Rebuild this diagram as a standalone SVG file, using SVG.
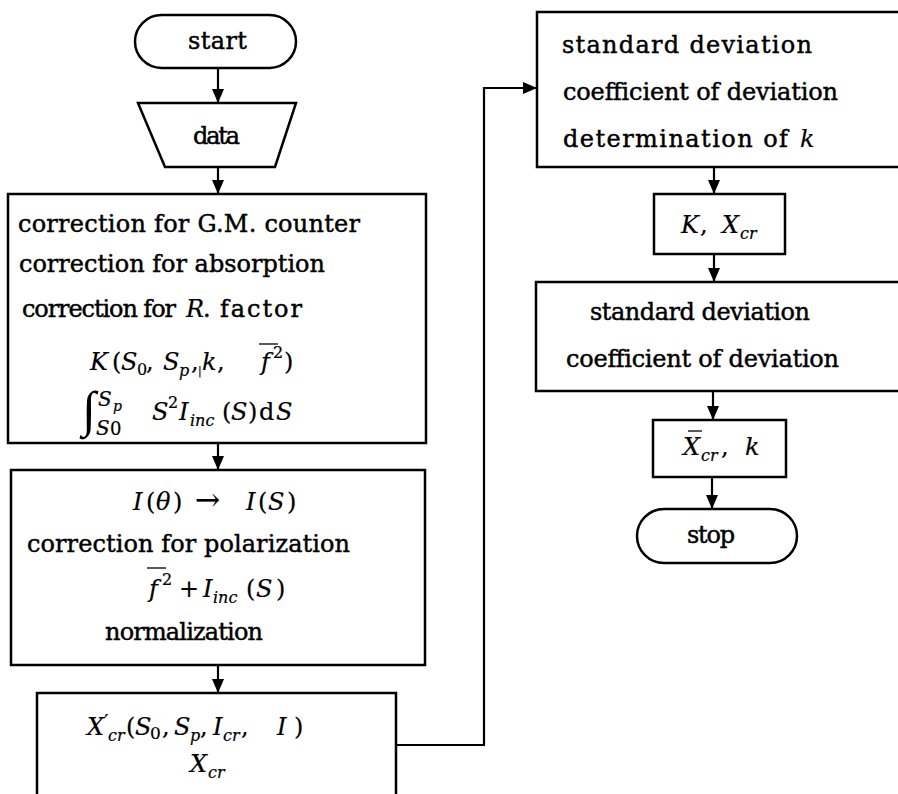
<svg xmlns="http://www.w3.org/2000/svg" width="898" height="794" viewBox="0 0 898 794">
<style>
.box{fill:#fff;stroke:#000;stroke-width:2.5}
.ln{fill:none;stroke:#000;stroke-width:2.2}
.w{font-family:"DejaVu Serif",serif;font-size:24px;fill:#000;stroke:#000;stroke-width:0.45}
.m{font-family:"DejaVu Serif",serif;font-size:24px;fill:#000;stroke:#000;stroke-width:0.2}
.i{font-style:italic}
.s{font-size:16px}
.ov{stroke:#000;stroke-width:1.3}
</style>
<defs>
<marker id="ah" viewBox="0 0 12 14" refX="6" refY="14" markerWidth="12" markerHeight="14" markerUnits="userSpaceOnUse" orient="0">
<path d="M0,0 L12,0 L6,14 Z" fill="#000"/>
</marker>
<marker id="ahr" viewBox="0 0 14 12" refX="14" refY="6" markerWidth="14" markerHeight="12" markerUnits="userSpaceOnUse" orient="0">
<path d="M0,0 L14,6 L0,12 Z" fill="#000"/>
</marker>
</defs>
<rect width="898" height="794" fill="#fff"/>
<g id="connectors">
<line class="ln" x1="218" y1="68" x2="218" y2="103" marker-end="url(#ah)"/>
<line class="ln" x1="218" y1="167" x2="218" y2="194" marker-end="url(#ah)"/>
<line class="ln" x1="218" y1="443" x2="218" y2="470" marker-end="url(#ah)"/>
<line class="ln" x1="218" y1="665" x2="218" y2="693" marker-end="url(#ah)"/>
<polyline class="ln" points="396,745 484,745 484,88 537,88" marker-end="url(#ahr)"/>
<line class="ln" x1="714" y1="167" x2="714" y2="194" marker-end="url(#ah)"/>
<line class="ln" x1="714" y1="254" x2="714" y2="282" marker-end="url(#ah)"/>
<line class="ln" x1="713" y1="391" x2="713" y2="420" marker-end="url(#ah)"/>
<line class="ln" x1="712" y1="477" x2="712" y2="509" marker-end="url(#ah)"/>
</g>
<g id="start">
<rect class="box" x="135" y="15" width="161" height="53" rx="26.5"/>
<text class="w" x="188" y="49" textLength="59" lengthAdjust="spacing">start</text>
</g>
<g id="data">
<polygon class="box" points="138,103 296,103 275,167 165,167"/>
<text class="w" x="193" y="144" textLength="47" lengthAdjust="spacing">data</text>
</g>
<g id="corrections">
<rect class="box" x="8" y="194" width="418" height="249"/>
<text class="w" x="18" y="232" textLength="342" lengthAdjust="spacing">correction for G.M. counter</text>
<text class="w" x="19" y="272" textLength="306" lengthAdjust="spacing">correction for absorption</text>
<text class="w" x="22" y="317" textLength="154" lengthAdjust="spacing">correction for</text>
<text class="m i" x="186" y="317">R</text>
<text class="w" x="203" y="317">.</text>
<text class="w" x="220" y="317" textLength="82" lengthAdjust="spacing">factor</text>
<text class="m" y="370"><tspan class="i" x="90">K</tspan><tspan x="112">(</tspan><tspan class="i" x="121">S</tspan><tspan class="s" x="137" y="375">0</tspan><tspan x="146" y="370">,</tspan><tspan class="i" x="163">S</tspan><tspan class="s i" x="179" y="376">p</tspan><tspan x="191" y="370">,</tspan><tspan font-size="11" x="198" y="374">|</tspan><tspan class="i" x="202" y="370">k</tspan><tspan x="217">,</tspan><tspan class="i" x="261">f</tspan><tspan class="s" x="273" y="358">2</tspan><tspan x="284" y="370">)</tspan></text>
<line class="ov" x1="259" y1="344" x2="278" y2="344"/>
<text x="82" y="426" style="font-family:'Liberation Serif',serif;font-size:50px">∫</text>
<text class="m i" x="98" y="406" style="font-size:20px">S</text>
<text class="m i" x="113" y="411" style="font-size:14px">p</text>
<text class="m i" x="96" y="435" style="font-size:20px">S</text>
<text class="m" x="110" y="435" style="font-size:18px">0</text>
<text class="m" y="420"><tspan class="i" x="152">S</tspan><tspan class="s" x="168" y="408">2</tspan><tspan class="i" x="179" y="420">I</tspan><tspan class="s i" x="190" y="426">inc</tspan><tspan x="222" y="420">(</tspan><tspan class="i" x="231">S</tspan><tspan x="248">)</tspan><tspan x="259">d</tspan><tspan class="i" x="276">S</tspan></text>
</g>
<g id="polarization">
<rect class="box" x="11" y="470" width="414" height="195"/>
<text class="m" y="510"><tspan class="i" x="133">I</tspan><tspan x="146">(</tspan><tspan class="i" x="156">θ</tspan><tspan x="173">)</tspan><tspan x="195" font-size="30">→</tspan><tspan class="i" x="246">I</tspan><tspan x="258">(</tspan><tspan class="i" x="268">S</tspan><tspan x="287">)</tspan></text>
<text class="w" x="27" y="552" textLength="323" lengthAdjust="spacing">correction for polarization</text>
<text class="m" y="597"><tspan class="i" x="149">f</tspan><tspan class="s" x="162" y="585">2</tspan><tspan x="179" y="597">+</tspan><tspan class="i" x="203">I</tspan><tspan class="s i" x="213" y="603">inc</tspan><tspan x="246" y="597">(</tspan><tspan class="i" x="256">S</tspan><tspan x="276">)</tspan></text>
<line class="ov" x1="147" y1="568" x2="166" y2="568"/>
<text class="w" x="105" y="640" textLength="158" lengthAdjust="spacing">normalization</text>
</g>
<g id="xcr">
<rect class="box" x="37" y="693" width="359" height="110"/>
<text class="m" y="735"><tspan class="i" x="87">X</tspan><tspan x="104" y="729" font-size="20">′</tspan><tspan class="s i" x="108" y="741">cr</tspan><tspan x="126" y="735">(</tspan><tspan class="i" x="135">S</tspan><tspan x="150" y="739" font-size="17">0</tspan><tspan x="162" y="735">,</tspan><tspan class="i" x="174">S</tspan><tspan class="s i" x="190" y="741">p</tspan><tspan x="200" y="735">,</tspan><tspan class="i" x="213">I</tspan><tspan class="s i" x="223" y="741">cr</tspan><tspan x="241" y="735">,</tspan><tspan class="i" x="277">I</tspan><tspan x="294">)</tspan></text>
<text class="m" y="772"><tspan class="i" x="190">X</tspan><tspan class="s i" x="208" y="778">cr</tspan></text>
</g>
<g id="deviation1">
<rect class="box" x="537" y="12" width="370" height="155"/>
<text class="w" x="562" y="53" textLength="250" lengthAdjust="spacing">standard deviation</text>
<text class="w" x="563" y="100" textLength="275" lengthAdjust="spacing">coefficient of deviation</text>
<text class="w" x="563" y="147" textLength="225" lengthAdjust="spacing">determination of</text>
<text class="m i" x="800" y="147">k</text>
</g>
<g id="kxcr">
<rect class="box" x="654" y="194" width="131" height="60"/>
<text class="m" y="233"><tspan class="i" x="681">K</tspan><tspan x="700">,</tspan><tspan class="i" x="722">X</tspan><tspan class="s i" x="740" y="239">cr</tspan></text>
</g>
<g id="deviation2">
<rect class="box" x="536" y="282" width="371" height="109"/>
<text class="w" x="590" y="320" textLength="220" lengthAdjust="spacing">standard deviation</text>
<text class="w" x="566" y="367" textLength="273" lengthAdjust="spacing">coefficient of deviation</text>
</g>
<g id="xbar">
<rect class="box" x="653" y="420" width="133" height="57"/>
<text class="m" y="455"><tspan class="i" x="683">X</tspan><tspan class="s i" x="701" y="461">cr</tspan><tspan x="721" y="455">,</tspan><tspan class="i" x="745">k</tspan></text>
<line class="ov" x1="688" y1="431" x2="702" y2="431"/>
</g>
<g id="stop">
<rect class="box" x="637" y="509" width="160" height="54" rx="27"/>
<text class="w" x="687" y="543" textLength="48" lengthAdjust="spacing">stop</text>
</g>
</svg>
